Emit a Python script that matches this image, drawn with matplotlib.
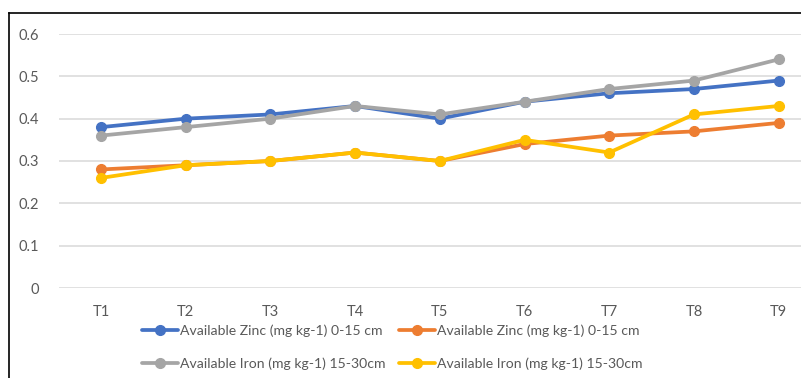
import matplotlib
matplotlib.use("Agg")
import matplotlib.pyplot as plt
from matplotlib.lines import Line2D

plt.rcParams['font.family'] = ['Lato', 'DejaVu Sans']

treatments = ["T1", "T2", "T3", "T4", "T5", "T6", "T7", "T8", "T9"]
zinc_0_15_a = [0.38, 0.40, 0.41, 0.43, 0.40, 0.44, 0.46, 0.47, 0.49]
zinc_0_15_b = [0.28, 0.29, 0.30, 0.32, 0.30, 0.34, 0.36, 0.37, 0.39]
iron_15_30_a = [0.36, 0.38, 0.40, 0.43, 0.41, 0.44, 0.47, 0.49, 0.54]
iron_15_30_b = [0.26, 0.29, 0.30, 0.32, 0.30, 0.35, 0.32, 0.41, 0.43]
y_ticks = [0, 0.1, 0.2, 0.3, 0.4, 0.5, 0.6]

series = [
    ("Available Zinc (mg kg-1) 0-15 cm", zinc_0_15_a, "#4472C4"),
    ("Available Zinc (mg kg-1) 0-15 cm", zinc_0_15_b, "#ED7D31"),
    ("Available Iron (mg kg-1) 15-30cm", iron_15_30_a, "#A5A5A5"),
    ("Available Iron (mg kg-1) 15-30cm", iron_15_30_b, "#FFC000"),
]

W, H = 801, 378
fig = plt.figure(figsize=(W / 100, H / 100), dpi=100)
fig.patch.set_facecolor("white")

# plot area extends past the right edge of the canvas
left_px, right_px, top_px, bottom_px = 58.6, 821.0, 34.0, 288.0
ax = fig.add_axes([left_px / W, 1 - bottom_px / H,
                   (right_px - left_px) / W, (bottom_px - top_px) / H])

x = list(range(len(treatments)))
handles = []
for label, vals, color in series:
    h, = ax.plot(x, vals, color=color, lw=2.7, marker="o", markersize=7,
                 label=label, solid_capstyle="round", clip_on=False, zorder=3)
    handles.append(h)

ax.set_xlim(-0.5, len(treatments) - 0.5)
ax.set_ylim(0, 0.6)
ax.set_yticks(y_ticks)
ax.set_yticklabels(["0", "0.1", "0.2", "0.3", "0.4", "0.5", "0.6"])
ax.set_xticks(x)
ax.set_xticklabels(treatments)
ax.yaxis.grid(True, color="#D9D9D9", lw=1.1)
ax.set_axisbelow(True)
for s in ax.spines.values():
    s.set_visible(False)
ax.tick_params(axis="both", length=0, colors="#595959", labelsize=10.5)
ax.tick_params(axis="y", pad=14)
ax.tick_params(axis="x", pad=12)

order = [0, 2, 1, 3]
fig.legend([handles[i] for i in order], [series[i][0] for i in order],
           ncol=2, loc="upper left", bbox_to_anchor=(132 / W, 1 - 315 / H),
           frameon=False, fontsize=10.1, handlelength=2.6, handletextpad=0.15,
           columnspacing=0.9, labelspacing=1.4, borderpad=0.2,
           labelcolor="#595959")

# chart border
fig.add_artist(Line2D([9 / W, 1], [1 - 13 / H, 1 - 13 / H], transform=fig.transFigure,
                      color="black", lw=1.2))
fig.add_artist(Line2D([9 / W, 9 / W], [1 - 13 / H, 0], transform=fig.transFigure,
                      color="black", lw=1.2))

fig.savefig("out.png", dpi=100)
